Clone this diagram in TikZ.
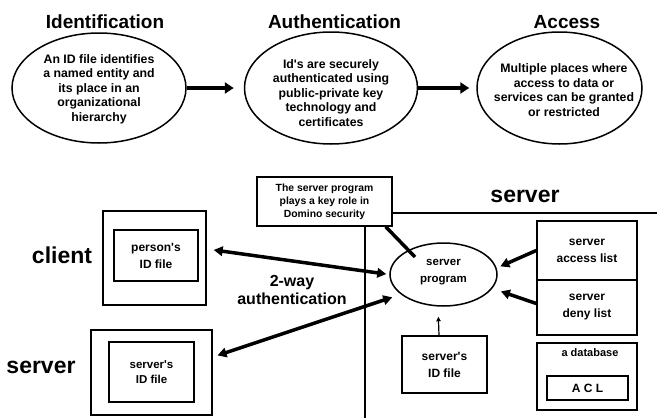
\documentclass[tikz,border=0pt]{standalone}
\usepackage{fontspec}
\setmainfont{Liberation Sans}
\usetikzlibrary{arrows.meta,shapes.geometric,calc}

\begin{document}
\begin{tikzpicture}[x=1pt,y=-1pt,
  every node/.style={font=\bfseries},
  title/.style={font=\fontsize{19}{22}\selectfont\bfseries, anchor=base, inner sep=0pt},
  biglabel/.style={font=\fontsize{23}{26}\selectfont\bfseries, anchor=base, inner sep=0pt},
  oval/.style={draw, ellipse, line width=1.5pt, inner sep=0pt},
  ovaltext/.style={align=center, font=\fontsize{12.3}{14.5}\selectfont\bfseries, inner sep=0pt},
  box/.style={draw, rectangle, line width=1.5pt, inner sep=0pt, align=center,
              font=\fontsize{12}{17}\selectfont\bfseries},
  notebox/.style={draw, rectangle, line width=1.5pt, inner sep=0pt, align=center,
              font=\fontsize{10.4}{13}\selectfont\bfseries},
  bigarrow/.style={line width=4.5pt, -{Triangle[length=9pt,width=11pt]}},
  twoway/.style={line width=3.5pt, {Triangle[length=9pt,width=9.5pt]}-{Triangle[length=9pt,width=9.5pt]}},
  sidearrow/.style={line width=3.5pt, -{Triangle[length=9pt,width=9.5pt]}},
  thinarrow/.style={line width=1.2pt, -{Triangle[length=4.5pt,width=4.5pt]}},
]
\useasboundingbox (0,0) rectangle (657,418);

% ---- upper row: the three stages ----
\node[title] (t1) at (105,28) {Identification};
\node[title] (t2) at (334.5,28) {Authentication};
\node[title] (t3) at (567,28) {Access};

\node[oval, minimum width=174pt, minimum height=110pt] (e1) at (99,88) {};
\node[ovaltext] (e1t) at (99,89) {An ID file identifies\\a named entity and\\its place in an\\organizational\\hierarchy};

\node[oval, minimum width=173pt, minimum height=112pt] (e2) at (331,88) {};
\node[ovaltext] (e2t) at (331,93) {Id\textquotesingle s are securely\\authenticated using\\public-private key\\technology and\\certificates};

\node[oval, minimum width=165pt, minimum height=112pt] (e3) at (559.5,88) {};
\node[ovaltext] (e3t) at (564,90) {Multiple places where\\access to data or\\services can be granted\\or restricted};

\draw[bigarrow, shorten >=10pt] (e1) -- (e2);
\draw[bigarrow, shorten >=7pt] (e2) -- (e3);

% ---- lower part: client / server ----
\node[biglabel] (srvhead) at (525,202) {server};
\node[notebox, minimum width=135pt, minimum height=49pt] (keybox) at (324.5,201.5)
  {The server program\\plays a key role in\\Domino security};

\coordinate (hend) at (657,213);
\draw[line width=1.3pt] (keybox.east |- hend) -- (hend);
\coordinate (vend) at (365,418);
\draw[line width=1.2pt] (keybox.south -| vend) -- (vend);

\node[oval, minimum width=107pt, minimum height=63pt] (sp) at (443.5,274.5) {};
\node[align=center, inner sep=0pt, font=\fontsize{11.5}{17}\selectfont\bfseries] (spt) at (443.5,272.5) {server\\program};

\draw[line width=3.5pt] ([xshift=-7pt]keybox.south east) -- ([xshift=-28.5pt,yshift=17.5pt]sp.center);

% client side
\node[box, minimum width=103pt, minimum height=94pt] (cout) at (154.5,258) {};
\node[box, minimum width=84pt, minimum height=51pt] (cin) at (156,255.5) {person\textquotesingle s\\ID file};
\node[biglabel] (clientlbl) at (62,263) {client};

\node[box, minimum width=121pt, minimum height=85pt] (sout) at (151.5,372.5) {};
\node[box, minimum width=85pt, minimum height=60pt, font=\fontsize{11.5}{15}\selectfont\bfseries] (sin) at (151.5,372) {server\textquotesingle s\\ID file};
\node[biglabel] (serverlbl) at (41,373) {server};

\node[align=center, inner sep=0pt, font=\fontsize{16}{18}\selectfont\bfseries] (auth) at (292,290) {2-way\\authentication};

\draw[twoway, shorten <=7pt, shorten >=3pt] ([yshift=9pt]cout.east) -- (sp.west);
\draw[twoway, shorten <=5pt, shorten >=9pt] ([yshift=15.5pt]sout.east) -- (sp.205);

% server side
\node[box, minimum width=85pt, minimum height=57pt] (sid) at (444.5,364.5) {server\textquotesingle s\\ID file};
\draw[thinarrow, shorten >=10pt] ([xshift=-5.5pt]sid.north) -- ([xshift=-5.5pt]sp.south);

\node[box, minimum width=100pt, minimum height=59pt] (acc) at (587,250.5) {server\\access list};
\node[box, minimum width=100pt, minimum height=55pt] (deny) at (587,307.5) {server\\deny list};
\node[box, minimum width=100pt, minimum height=67pt] (db) at (587,376.5) {};
\node[anchor=base, inner sep=0pt, font=\fontsize{11}{13}\selectfont\bfseries] (dblbl) at (590,356) {a database};
\node[box, minimum width=81pt, minimum height=24pt] (acl) at (587.5,388) {A C L};

\draw[sidearrow, shorten >=4pt] (acc.west) -- (sp.7);
\draw[sidearrow, shorten >=9pt] ([yshift=4pt]deny.west) -- (sp.344);
\end{tikzpicture}
\end{document}
